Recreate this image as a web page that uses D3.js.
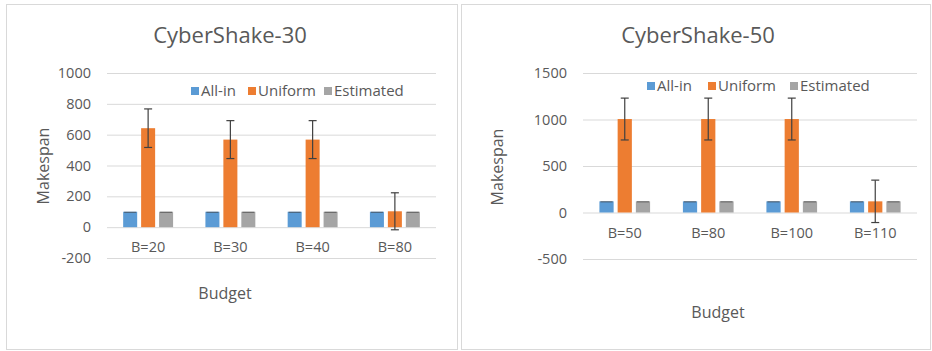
<!DOCTYPE html>
<html>
<head>
<meta charset="utf-8">
<script src="https://cdn.jsdelivr.net/npm/d3@7/dist/d3.min.js"></script>
<style>
  html, body { margin: 0; padding: 0; background: #ffffff; }
  svg { display: block; font-family: "Open Sans", "Segoe UI", sans-serif; }
</style>
</head>
<body>
<svg id="chart" width="932" height="351"></svg>
<script>
// ---------- data ----------
const seriesNames = ["All-in", "Uniform", "Estimated"];
const seriesColors = ["#5B9BD5", "#ED7D31", "#A5A5A5"];

const titleA = "CyberShake-30";
const categoriesA = ["B=20", "B=30", "B=40", "B=80"];
const allInA = [100, 100, 100, 100];
const uniformA = [642, 568, 568, 103];
const uniformErrA = [125, 123, 123, 120];
const estimatedA = [100, 100, 100, 100];
const yTicksA = [-200, 0, 200, 400, 600, 800, 1000];

const titleB = "CyberShake-50";
const categoriesB = ["B=50", "B=80", "B=100", "B=110"];
const allInB = [120, 120, 120, 120];
const uniformB = [1005, 1005, 1005, 120];
const uniformErrB = [225, 225, 225, 228];
const estimatedB = [120, 120, 120, 120];
const yTicksB = [-500, 0, 500, 1000, 1500];

const xTitle = "Budget";
const yTitle = "Makespan";

// ---------- drawing ----------
const svg = d3.select("#chart");
const textColor = "#595959";
const gridColor = "#D9D9D9";

function drawChart(cfg) {
  const { panel, plot, title, categories, values, errors, yTicks, legend, yTitlePos, xTitlePos } = cfg;

  svg.append("rect")
    .attr("x", panel.x + 0.5).attr("y", panel.y + 0.5)
    .attr("width", panel.w).attr("height", panel.h)
    .attr("fill", "#fff").attr("stroke", gridColor).attr("stroke-width", 1);

  const y = d3.scaleLinear()
    .domain([yTicks[0], yTicks[yTicks.length - 1]])
    .range([plot.bottom, plot.top]);
  const x0 = d3.scaleBand().domain(categories).range([plot.left, plot.right]).padding(0);
  const x1 = d3.scaleBand().domain(seriesNames).range([0, x0.bandwidth()])
    .paddingInner(0.22).paddingOuter(0.9);

  const yAxis = d3.axisLeft(y).tickValues(yTicks).tickFormat(d => String(d))
    .tickSize(-(plot.right - plot.left)).tickPadding(16);
  const ga = svg.append("g").attr("transform", `translate(${plot.left},0)`).call(yAxis);
  ga.select(".domain").remove();
  ga.selectAll(".tick line").attr("stroke", gridColor).attr("stroke-width", 1);
  ga.selectAll(".tick text").attr("fill", textColor).style("font-size", "14.5px")
    .style("font-family", "'Open Sans', sans-serif");

  const xAxis = d3.axisBottom(x0).tickSize(0).tickPadding(15);
  const gx = svg.append("g").attr("transform", `translate(0,${y(0)})`).call(xAxis);
  gx.select(".domain").remove();
  gx.selectAll(".tick text").attr("fill", textColor).style("font-size", "14.5px")
    .style("font-family", "'Open Sans', sans-serif");

  const groups = svg.append("g").selectAll("g").data(categories).join("g")
    .attr("transform", d => `translate(${x0(d)},0)`);
  seriesNames.forEach((s, si) => {
    groups.append("rect")
      .attr("x", x1(s))
      .attr("y", (d, i) => Math.min(y(values[si][i]), y(0)))
      .attr("width", x1.bandwidth())
      .attr("height", (d, i) => Math.abs(y(0) - y(values[si][i])))
      .attr("fill", seriesColors[si]);
  });
  seriesNames.forEach((s, si) => {
    groups.each(function (d, i) {
      const g = d3.select(this);
      const v = values[si][i];
      const e = errors[si][i];
      const cx = x1(s) + x1.bandwidth() / 2;
      if (e > 0) {
        g.append("line").attr("x1", cx).attr("x2", cx)
          .attr("y1", y(v + e)).attr("y2", y(v - e))
          .attr("stroke", "#404040").attr("stroke-width", 1.2);
        [v + e, v - e].forEach(t => {
          g.append("line").attr("x1", cx - 4).attr("x2", cx + 4)
            .attr("y1", y(t)).attr("y2", y(t))
            .attr("stroke", "#404040").attr("stroke-width", 1.2);
        });
      } else {
        g.append("line").attr("x1", x1(s) + 1).attr("x2", x1(s) + x1.bandwidth() - 1)
          .attr("y1", y(v) + 0.5).attr("y2", y(v) + 0.5)
          .attr("stroke", "#404040").attr("stroke-opacity", 0.75).attr("stroke-width", 1);
      }
    });
  });

  svg.append("text").attr("x", cfg.titleX).attr("y", 43)
    .attr("text-anchor", "middle").attr("fill", textColor)
    .style("font-size", "22px").text(title);

  svg.append("text")
    .attr("transform", `translate(${yTitlePos.x},${yTitlePos.y}) rotate(-90)`)
    .attr("text-anchor", "middle").attr("dy", "0.35em")
    .attr("fill", textColor).style("font-size", "16px").text(yTitle);
  svg.append("text").attr("x", xTitlePos.x).attr("y", xTitlePos.y)
    .attr("text-anchor", "middle").attr("dy", "0.35em")
    .attr("fill", textColor).style("font-size", "16px").text(xTitle);

  seriesNames.forEach((s, si) => {
    const lx = legend.xs[si];
    svg.append("rect").attr("x", lx).attr("y", legend.y - 4)
      .attr("width", 8).attr("height", 8).attr("fill", seriesColors[si]);
    svg.append("text").attr("x", lx + 10).attr("y", legend.y)
      .attr("dy", "0.35em").attr("fill", textColor).style("font-size", "15px").text(s);
  });
}

drawChart({
  panel: { x: 6, y: 4, w: 451, h: 345 },
  plot: { left: 107, right: 436, top: 73, bottom: 258 },
  title: titleA, titleX: 230,
  categories: categoriesA,
  values: [allInA, uniformA, estimatedA],
  errors: [allInA.map(() => 0), uniformErrA, estimatedA.map(() => 0)],
  yTicks: yTicksA,
  legend: { xs: [191, 248, 324], y: 91 },
  yTitlePos: { x: 43, y: 166 },
  xTitlePos: { x: 225, y: 293 }
});

drawChart({
  panel: { x: 461, y: 4, w: 469, h: 345 },
  plot: { left: 583, right: 917, top: 73, bottom: 259 },
  title: titleB, titleX: 698,
  categories: categoriesB,
  values: [allInB, uniformB, estimatedB],
  errors: [allInB.map(() => 0), uniformErrB, estimatedB.map(() => 0)],
  yTicks: yTicksB,
  legend: { xs: [647, 708, 790], y: 86 },
  yTitlePos: { x: 497, y: 167 },
  xTitlePos: { x: 718, y: 312 }
});
</script>
</body>
</html>
